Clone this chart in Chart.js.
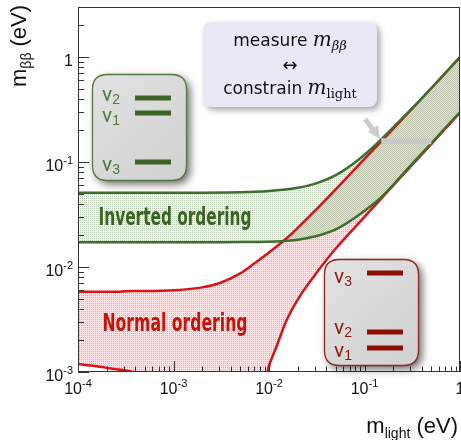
<!DOCTYPE html>
<html>
<head>
<meta charset="utf-8">
<script src="https://cdn.jsdelivr.net/npm/chart.js@4.4.1/dist/chart.umd.min.js"></script>
<style>
  body { margin: 0; background: #fff; }
  canvas { display: block; }
</style>
</head>
<body>
<canvas id="chart" width="461" height="440"></canvas>
<script>
// lightest neutrino mass (eV) and the m_bb band edges
const massIO = [1e-4, 1e-3, 5e-3, 1e-2, 2e-2, 3e-2, 5e-2, 8.5e-2, 0.147, 0.3, 0.5, 1];
const invertedUpper = [0.051, 0.051, 0.0515, 0.053, 0.057, 0.062, 0.075, 0.104, 0.162, 0.31, 0.505, 1.0];
const invertedLower = [0.0172, 0.0172, 0.0173, 0.0174, 0.0182, 0.0195, 0.0228, 0.0308, 0.0455, 0.0915, 0.151, 0.30];

const massNO = [1e-4, 1.5e-4, 2.2e-4, 3.8e-4, 6e-4, 1e-3, 2e-3, 3e-3, 5e-3, 7e-3, 9.6e-3, 1.2e-2, 1.5e-2, 2e-2, 3e-2, 5e-2, 0.1, 0.2, 0.5, 1];
const normalUpper = [0.0058, 0.0058, 0.0058, 0.0059, 0.0059, 0.0060, 0.0064, 0.0070, 0.0087, 0.0108, 0.0134, 0.0157, 0.0185, 0.0236, 0.034, 0.055, 0.107, 0.207, 0.505, 1.0];
const normalLower = [1.19e-3, 1.14e-3, 1.08e-3, 1.0e-3, 8.5e-4, 6e-4, 2e-4, 3e-5, 1e-5, 2e-4, 1e-3, 1.75e-3, 3.0e-3, 4.9e-3, 8.3e-3, 0.015, 0.030, 0.060, 0.148, 0.295];

// gray bar: measured m_bb mapped onto a range of m_light
const sensMass = [0.15, 0.5];
const sensValue = [0.158, 0.158];

// decade exponents for the tick labels
const xTickExp = [-4, -3, -2, -1, 0];
const yTickExp = [-3, -2, -1, 0];

const green = '#3e6e2e';
const red = '#d7141a';
const ctx = document.getElementById('chart').getContext('2d');

// light tint with a fine stipple on top
function dotPattern(tint, dot, off) {
    const tile = document.createElement('canvas');
    tile.width = 2;
    tile.height = 2;
    const t = tile.getContext('2d');
    t.fillStyle = tint;
    t.fillRect(0, 0, 2, 2);
    t.fillStyle = dot;
    t.fillRect(off, off, 1, 1);
    return ctx.createPattern(tile, 'repeat');
}

const toPoints = (xs, ys) => xs.map((m, i) => ({x: m, y: ys[i]}));

function roundBox(c, x, y, w, h, r) {
    c.beginPath();
    c.moveTo(x + r, y);
    c.lineTo(x + w - r, y);
    c.quadraticCurveTo(x + w, y, x + w, y + r);
    c.lineTo(x + w, y + h - r);
    c.quadraticCurveTo(x + w, y + h, x + w - r, y + h);
    c.lineTo(x + r, y + h);
    c.quadraticCurveTo(x, y + h, x, y + h - r);
    c.lineTo(x, y + r);
    c.quadraticCurveTo(x, y, x + r, y);
    c.closePath();
}

// draw a run of [text, font, dy] pieces starting at x
function runWidth(c, parts) {
    let w = 0;
    parts.forEach(p => { c.font = p[1]; w += c.measureText(p[0]).width; });
    return w;
}
function drawRun(c, parts, x, y) {
    c.textAlign = 'left';
    c.textBaseline = 'alphabetic';
    parts.forEach(p => {
        c.font = p[1];
        c.fillText(p[0], x, y + (p[2] || 0));
        x += c.measureText(p[0]).width;
    });
}

function powParts(e) {
    if (e === 0) return [['1', '16px "Liberation Sans"', 0]];
    return [['10', '16px "Liberation Sans"', 0], [String(e), '11px "Liberation Sans"', -7]];
}

function fitText(c, text, font, cx, y, width, color) {
    c.save();
    c.font = font;
    c.fillStyle = color;
    c.textAlign = 'center';
    c.textBaseline = 'alphabetic';
    const w = c.measureText(text).width;
    c.translate(cx, y);
    c.scale(width / w, 1);
    c.fillText(text, 0, 0);
    c.restore();
}

function legendBox(c, x, y, border, textColor, barColor, rows) {
    c.save();
    c.shadowColor = 'rgba(0,0,0,0.6)';
    c.shadowBlur = 8;
    c.shadowOffsetX = 4;
    c.shadowOffsetY = 4;
    roundBox(c, x, y, 94, 106, 15);
    const g = c.createLinearGradient(x, y, x + 94, y + 106);
    g.addColorStop(0, '#e2e2e2');
    g.addColorStop(1, '#d0d0d0');
    c.fillStyle = g;
    c.fill();
    c.restore();
    roundBox(c, x + 0.5, y + 0.5, 94, 106, 15);
    c.strokeStyle = border;
    c.lineWidth = 1.3;
    c.stroke();
    rows.forEach(r => {
        c.fillStyle = textColor;
        drawRun(c, [['ν', '21px Roboto', 0], [r.label, '14px "Liberation Sans"', 3]], x + 10, r.text);
        c.fillStyle = barColor;
        c.fillRect(x + 43, r.bar - 2.5, 36, 5);
    });
}

const overlay = {
    id: 'overlay',
    afterDraw(chart) {
        const c = chart.ctx;
        const a = chart.chartArea;
        const xs = chart.scales.x;
        const ys = chart.scales.y;
        c.save();

        // frame and inward ticks
        c.strokeStyle = '#333';
        c.lineWidth = 1;
        c.strokeRect(a.left + 0.5, a.top + 0.5, a.right - a.left - 1, a.bottom - a.top - 1);
        c.beginPath();
        for (let e = -4; e <= 0; e++) {
            for (let k = 1; k <= 9; k++) {
                const v = k * Math.pow(10, e);
                if (v > 1.0001) break;
                const px = Math.round(xs.getPixelForValue(v)) + 0.5;
                c.moveTo(px, a.bottom);
                c.lineTo(px, a.bottom - (k === 1 ? 11 : 5.5));
            }
        }
        for (let e = -3; e <= 0; e++) {
            for (let k = 1; k <= 9; k++) {
                const v = k * Math.pow(10, e);
                if (v > 3.0001) break;
                const py = Math.round(ys.getPixelForValue(v)) + 0.5;
                c.moveTo(a.left, py);
                c.lineTo(a.left + (k === 1 ? 11 : 6), py);
            }
        }
        c.stroke();

        // tick labels
        c.fillStyle = '#111';
        xTickExp.forEach(e => {
            const parts = powParts(e);
            const w = runWidth(c, parts);
            drawRun(c, parts, xs.getPixelForValue(Math.pow(10, e)) - w / 2, 394);
        });
        yTickExp.forEach(e => {
            const parts = powParts(e);
            const w = runWidth(c, parts);
            drawRun(c, parts, 73 - w, ys.getPixelForValue(Math.pow(10, e)) + 9);
        });

        // axis titles
        const xTitle = [['m', '22px "Liberation Sans"', 0], ['light', '14px "Liberation Sans"', 5], [' (eV)', '22px "Liberation Sans"', 0]];
        drawRun(c, xTitle, 458 - runWidth(c, xTitle), 433);
        c.save();
        c.translate(26, 87);
        c.rotate(-Math.PI / 2);
        drawRun(c, [['m', '22px "Liberation Sans"', 0], ['ββ', '14px "Liberation Sans"', 5], [' (eV)', '22px "Liberation Sans"', 0]], 0, 0);
        c.restore();

        // band names
        const narrow = 'bold 25px "Liberation Sans Narrow", "DejaVu Sans Condensed", sans-serif';
        fitText(c, 'Inverted ordering', narrow, 175, 225, 153, '#3b6524');
        fitText(c, 'Normal ordering', narrow, 175, 331, 145, '#c4150b');

        // mass ordering legends
        legendBox(c, 92, 74, '#557a40', '#4e7a3a', '#3d6426', [
            {label: '2', text: 101, bar: 98},
            {label: '1', text: 122, bar: 113},
            {label: '3', text: 171, bar: 162}
        ]);
        legendBox(c, 324, 259, '#8a2a1f', '#8e1c12', '#8a1005', [
            {label: '3', text: 283, bar: 273},
            {label: '2', text: 334, bar: 332},
            {label: '1', text: 357, bar: 348}
        ]);

        // annotation box
        c.save();
        c.shadowColor = 'rgba(0,0,0,0.35)';
        c.shadowBlur = 6;
        c.shadowOffsetX = 3;
        c.shadowOffsetY = 3;
        roundBox(c, 203, 22, 174, 85, 9);
        c.fillStyle = '#e9e9f6';
        c.fill();
        c.restore();
        c.fillStyle = '#111';
        const row1 = [['measure ', '17px "DejaVu Sans"', 0], ['m', 'italic 20px "DejaVu Serif"', 0], ['ββ', 'italic 13px "DejaVu Serif"', 4]];
        drawRun(c, row1, 290 - runWidth(c, row1) / 2, 46);
        c.font = '18px "DejaVu Sans"';
        c.textAlign = 'center';
        c.fillText('↔', 290, 71);
        const row2 = [['constrain ', '17px "DejaVu Sans"', 0], ['m', 'italic 20px "DejaVu Serif"', 0], ['light', '13px "DejaVu Serif"', 4]];
        drawRun(c, row2, 290 - runWidth(c, row2) / 2, 94);

        // gray pointer from the box to the bar
        c.strokeStyle = '#cdcdcd';
        c.fillStyle = '#cdcdcd';
        c.lineWidth = 5;
        c.beginPath();
        c.moveTo(365, 119);
        c.lineTo(374, 131);
        c.stroke();
        c.beginPath();
        c.moveTo(380, 139);
        c.lineTo(368, 132);
        c.lineTo(378, 125);
        c.closePath();
        c.fill();

        c.restore();
    }
};

new Chart(ctx, {
    type: 'line',
    data: {
        datasets: [
            {data: toPoints(sensMass, sensValue), borderColor: '#c9c9c9', borderWidth: 6, borderCapStyle: 'butt', fill: false},
            {data: toPoints(massIO, invertedUpper), borderColor: green, borderWidth: 2.5, fill: '+1',
                backgroundColor: dotPattern('rgba(200,215,190,0.3)', 'rgba(130,160,120,0.45)', 0)},
            {data: toPoints(massIO, invertedLower), borderColor: green, borderWidth: 2.5, fill: false},
            {data: toPoints(massNO, normalUpper), borderColor: red, borderWidth: 2.5, fill: '+1',
                backgroundColor: dotPattern('rgba(248,185,190,0.4)', 'rgba(235,110,120,0.55)', 1)},
            {data: toPoints(massNO, normalLower), borderColor: red, borderWidth: 2.5, fill: false}
        ]
    },
    options: {
        responsive: false,
        animation: false,
        devicePixelRatio: 1,
        layout: {padding: {left: 78, right: 1, top: 7, bottom: 68}},
        elements: {
            point: {radius: 0, hoverRadius: 0},
            line: {cubicInterpolationMode: 'monotone'}
        },
        scales: {
            x: {type: 'logarithmic', min: 1e-4, max: 1, display: false},
            y: {type: 'logarithmic', min: 1e-3, max: 3, display: false}
        },
        plugins: {
            legend: {display: false},
            tooltip: {enabled: false},
            filler: {drawTime: 'beforeDatasetsDraw'}
        }
    },
    plugins: [overlay]
});
</script>
</body>
</html>
